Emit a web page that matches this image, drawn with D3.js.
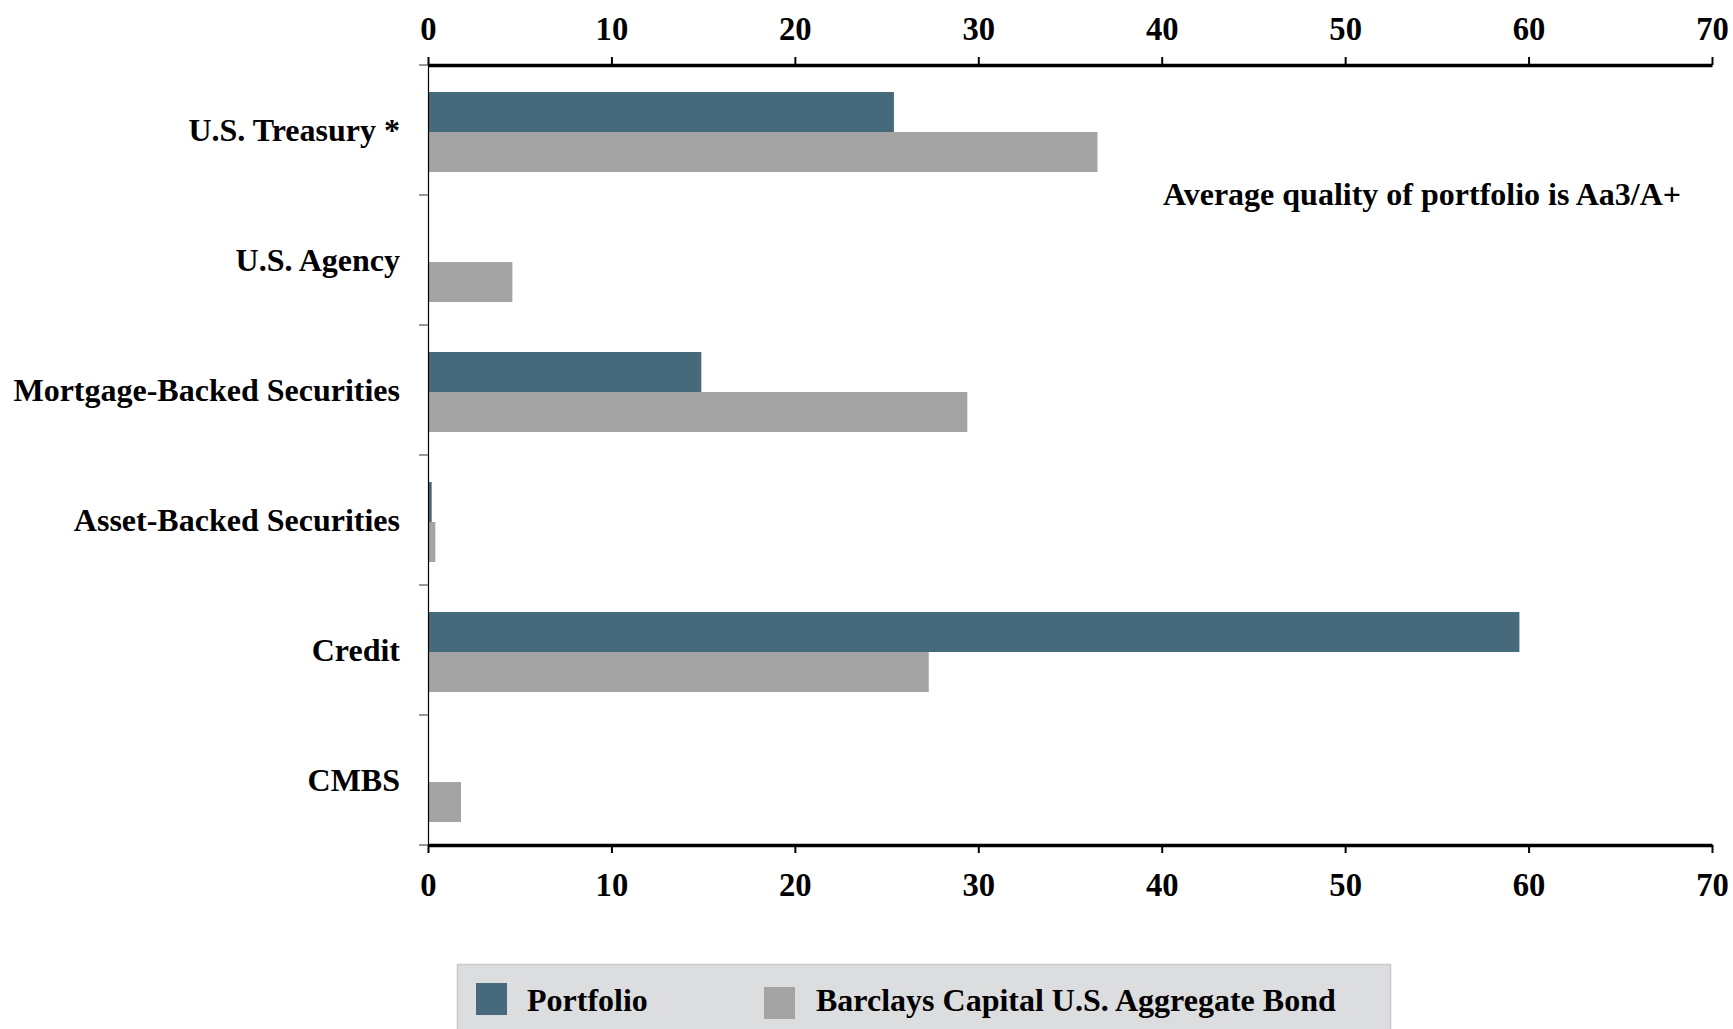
<!DOCTYPE html>
<html>
<head>
<meta charset="utf-8">
<script src="https://cdn.jsdelivr.net/npm/d3@7"></script>
<style>
  html, body { margin: 0; padding: 0; background: #ffffff; }
  svg { display: block; }
  text { font-family: "Liberation Serif", "Times New Roman", serif; font-weight: bold; fill: #000; }
</style>
</head>
<body>
<svg id="chart" width="1733" height="1029"></svg>
<script>
// Sector allocation (% of market value)
const categories = [
  "U.S. Treasury *",
  "U.S. Agency",
  "Mortgage-Backed Securities",
  "Asset-Backed Securities",
  "Credit",
  "CMBS"
];
const seriesNames = ["Portfolio", "Barclays Capital U.S. Aggregate Bond"];
const portfolioValues = [25.4, 0, 14.9, 0.2, 59.5, 0];
const benchmarkValues = [36.5, 4.6, 29.4, 0.4, 27.3, 1.8];
const xTickValues = [0, 10, 20, 30, 40, 50, 60, 70];
const note = "Average quality of portfolio is Aa3/A+";

const colors = { "Portfolio": "#46697c", "Barclays Capital U.S. Aggregate Bond": "#a3a4a3" };

const svg = d3.select("#chart");
const plotLeft = 428, plotRight = 1712, plotTop = 65, plotBottom = 845;

const x = d3.scaleLinear().domain([0, 70]).range([plotLeft, plotRight]);
const y0 = d3.scaleBand().domain(categories).range([plotTop, plotBottom]).padding(0);
const y1 = d3.scaleBand().domain(seriesNames).range([0, y0.bandwidth()])
  .paddingInner(0).paddingOuter(0.625).align(0.54);

const rows = categories.map((c, i) => ({
  category: c,
  values: [
    { series: seriesNames[0], value: portfolioValues[i] },
    { series: seriesNames[1], value: benchmarkValues[i] }
  ]
}));

// bars
const g = svg.append("g");
g.selectAll("g.row").data(rows).join("g")
  .attr("class", "row")
  .attr("transform", d => `translate(0,${y0(d.category)})`)
  .selectAll("rect").data(d => d.values.filter(v => v.value > 0)).join("rect")
  .attr("x", x(0))
  .attr("y", d => y1(d.series))
  .attr("width", d => x(d.value) - x(0))
  .attr("height", y1.bandwidth())
  .attr("fill", d => colors[d.series]);

// category axis (left)
const yAxisTicks = d3.range(categories.length + 1).map(i => plotTop + i * y0.step());
svg.append("line")
  .attr("x1", plotLeft + 0.5).attr("x2", plotLeft + 0.5)
  .attr("y1", plotTop).attr("y2", plotBottom)
  .attr("stroke", "#000").attr("stroke-width", 1.2);
svg.selectAll("line.ytick").data(yAxisTicks).join("line")
  .attr("class", "ytick")
  .attr("x1", plotLeft - 9).attr("x2", plotLeft)
  .attr("y1", d => d).attr("y2", d => d)
  .attr("stroke", "#555").attr("stroke-width", 1.2);

svg.selectAll("text.cat").data(categories).join("text")
  .attr("class", "cat")
  .attr("x", 400)
  .attr("y", d => y0(d) + y0.bandwidth() / 2)
  .attr("dy", "0.35em")
  .attr("text-anchor", "end")
  .style("font-size", "32px")
  .text(d => d);

// value axes (top and bottom)
function styleAxis(sel, labelY) {
  sel.select(".domain").attr("stroke", "#000").attr("stroke-width", 3.5);
  sel.selectAll(".tick line").attr("stroke", "#000").attr("stroke-width", 2);
  sel.selectAll(".tick text").remove();
  sel.selectAll(".tick").append("text")
    .attr("transform", `translate(0,${labelY}) scale(0.96,1)`)
    .attr("text-anchor", "middle")
    .style("font-size", "34px")
    .text(d => d);
}
const topAxis = svg.append("g")
  .attr("transform", `translate(0,${plotTop})`)
  .call(d3.axisTop(x).tickValues(xTickValues).tickSize(8).tickSizeOuter(0));
styleAxis(topAxis, -25);

const bottomAxis = svg.append("g")
  .attr("transform", `translate(0,${plotBottom})`)
  .call(d3.axisBottom(x).tickValues(xTickValues).tickSize(8).tickSizeOuter(0));
styleAxis(bottomAxis, 51);

// annotation
svg.append("text")
  .attr("x", 1681).attr("y", 194)
  .attr("dy", "0.35em")
  .attr("text-anchor", "end")
  .style("font-size", "32px")
  .text(note);

// legend
const legend = svg.append("g");
legend.append("rect")
  .attr("x", 457.5).attr("y", 964.5)
  .attr("width", 933).attr("height", 80)
  .attr("fill", "#dcdddf").attr("stroke", "#c9cacc").attr("stroke-width", 1.5);
const legendItems = [
  { name: seriesNames[0], sx: 476, sy: 983, tx: 527 },
  { name: seriesNames[1], sx: 764, sy: 987, tx: 816 }
];
legend.selectAll("rect.sw").data(legendItems).join("rect")
  .attr("class", "sw")
  .attr("x", d => d.sx).attr("y", d => d.sy)
  .attr("width", 31).attr("height", 32)
  .attr("fill", d => colors[d.name]);
legend.selectAll("text.lg").data(legendItems).join("text")
  .attr("class", "lg")
  .attr("x", d => d.tx).attr("y", 1011)
  .style("font-size", "32px")
  .text(d => d.name);
</script>
</body>
</html>
